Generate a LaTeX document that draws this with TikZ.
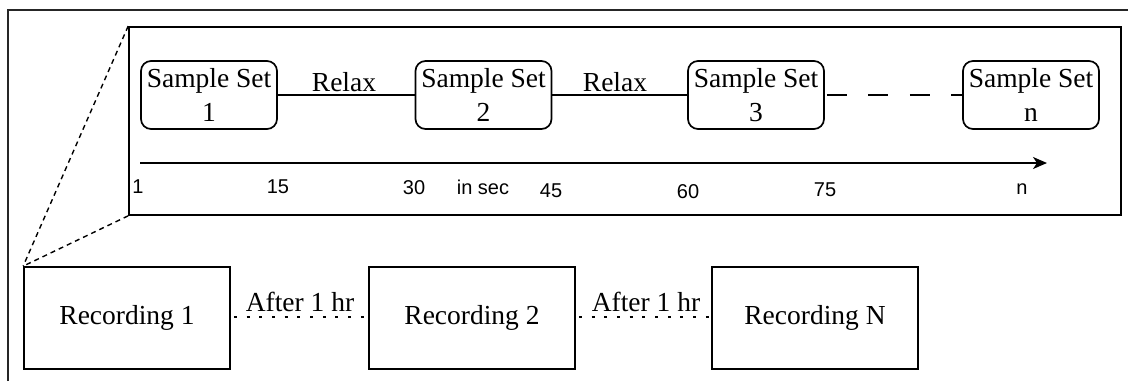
\documentclass[tikz,border=0pt]{standalone}
\usepackage{fontspec}
\setmainfont{Liberation Serif}
\setsansfont{Liberation Sans}
\usetikzlibrary{arrows.meta}
\tikzset{
  serifbig/.style={font=\fontsize{27.5}{34}\selectfont},
  sampbox/.style={draw, line width=1.7pt, rounded corners=10pt, minimum width=136pt, minimum height=68pt, inner sep=0pt, align=center, serifbig},
  recbox/.style={draw, line width=1.7pt, minimum width=206pt, minimum height=102pt, inner sep=0pt, serifbig},
  ticklab/.style={font=\sffamily\fontsize{20}{22}\selectfont, anchor=base, inner sep=0pt},
  edgelab/.style={serifbig, anchor=base, inner sep=0pt},
  conn/.style={line width=1.4pt},
  zoomline/.style={line width=1.4pt, dash pattern=on 5pt off 4pt},
  dotline/.style={line width=2pt, dash pattern=on 3pt off 9.7pt},
}
\begin{document}
\begin{tikzpicture}[x=1pt,y=-1pt]
\useasboundingbox (0,0) rectangle (1128,381);
% outer frame (cropped)
\draw[line width=1.5pt, black!85] (8,381) -- (8,10) -- (1128,10);
% inner box
\node[draw, line width=1.7pt, minimum width=992pt, minimum height=188pt, inner sep=0pt] (inner) at (625,121) {};
% sample sets
\node[sampbox] (s1) at (209,95) {Sample Set\\1};
\node[sampbox] (s2) at (483.5,95) {Sample Set\\2};
\node[sampbox] (s3) at (756,95) {Sample Set\\3};
\node[sampbox] (sn) at (1031,95) {Sample Set\\n};
\draw[conn] (s1.east) -- (s2.west);
\draw[conn] (s2.east) -- (s3.west);
\draw[conn, dash pattern=on 20pt off 21.5pt] ([xshift=2pt]s3.east) -- (sn.west);
\node[edgelab] (r1) at (344,91) {Relax};
\node[edgelab] (r2) at (615,91) {Relax};
% time axis
\coordinate (a0) at (140,163);
\coordinate (a1) at (1047,163);
\draw[line width=1.8pt, -{Stealth[length=14pt,width=12pt,inset=4pt]}] (a0) -- (a1);
\node[ticklab] (t1) at (138,193) {1};
\node[ticklab] (t15) at (278,193) {15};
\node[ticklab] (t30) at (414,194) {30};
\node[ticklab] (tsec) at (483,194) {in sec};
\node[ticklab] (t45) at (551,197) {45};
\node[ticklab] (t60) at (688,198) {60};
\node[ticklab] (t75) at (825,196) {75};
\node[ticklab] (tn) at (1022,194) {n};
% recordings
\node[recbox] (rec1) at (127,318) {Recording 1};
\node[recbox] (rec2) at (472,318) {Recording 2};
\node[recbox] (recn) at (815,318) {Recording N};
\draw[dotline] ([xshift=3pt]rec1.east |- 0,317) -- (rec2.west |- 0,317);
\draw[dotline] ([xshift=3pt]rec2.east |- 0,317) -- (recn.west |- 0,317);
\node[edgelab] (h1) at (300,311) {After 1 hr};
\node[edgelab] (h2) at (646,311) {After 1 hr};
% zoom lines
\draw[zoomline] (inner.north west) -- (rec1.north west);
\draw[zoomline] (inner.south west) -- (rec1.north west);
\end{tikzpicture}
\end{document}
